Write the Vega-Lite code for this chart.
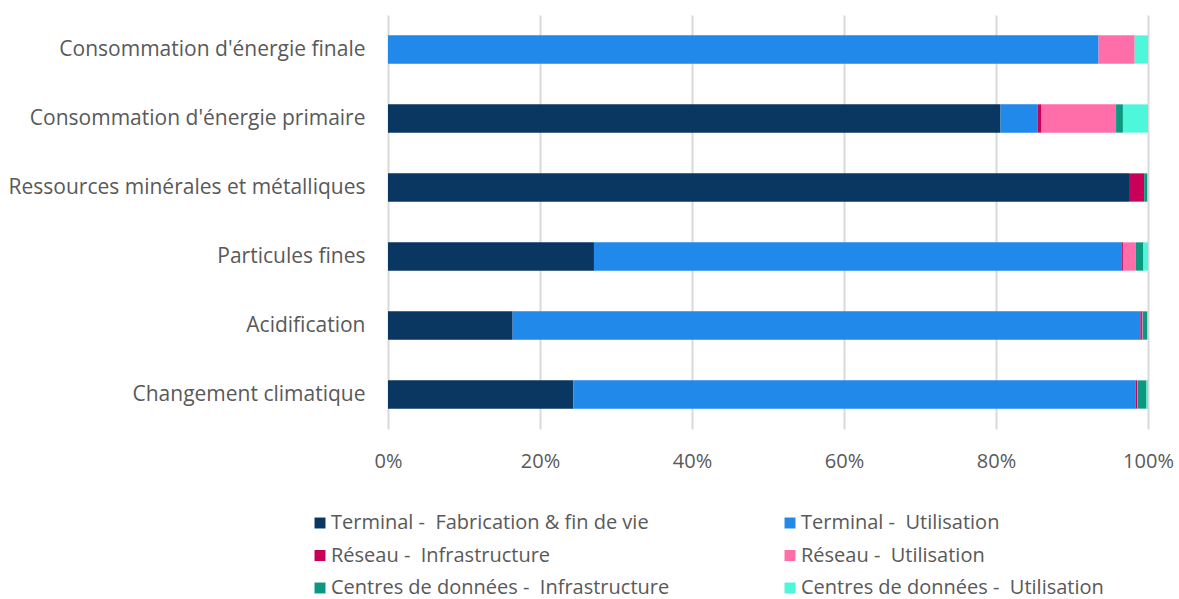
{
  "$schema": "https://vega.github.io/schema/vega-lite/v6.json",
  "autosize": "none",
  "padding": {"left": 388, "top": 15, "right": 31, "bottom": 170},
  "width": 760,
  "height": 414,
  "background": "white",
  "config": {"view": {"stroke": null}, "font": "Open Sans"},
  "data": {"values": [
    {"cat": "Consommation d'énergie finale", "s": "Terminal - \u00a0Fabrication & fin de vie", "o": 1, "v": 0},
    {"cat": "Consommation d'énergie finale", "s": "Terminal - \u00a0Utilisation", "o": 2, "v": 93.5},
    {"cat": "Consommation d'énergie finale", "s": "Réseau - \u00a0Infrastructure", "o": 3, "v": 0},
    {"cat": "Consommation d'énergie finale", "s": "Réseau - \u00a0Utilisation", "o": 4, "v": 4.75},
    {"cat": "Consommation d'énergie finale", "s": "Centres de données - \u00a0Infrastructure", "o": 5, "v": 0},
    {"cat": "Consommation d'énergie finale", "s": "Centres de données - \u00a0Utilisation", "o": 6, "v": 1.75},
    {"cat": "Consommation d'énergie primaire", "s": "Terminal - \u00a0Fabrication & fin de vie", "o": 1, "v": 80.6},
    {"cat": "Consommation d'énergie primaire", "s": "Terminal - \u00a0Utilisation", "o": 2, "v": 4.9},
    {"cat": "Consommation d'énergie primaire", "s": "Réseau - \u00a0Infrastructure", "o": 3, "v": 0.5},
    {"cat": "Consommation d'énergie primaire", "s": "Réseau - \u00a0Utilisation", "o": 4, "v": 9.8},
    {"cat": "Consommation d'énergie primaire", "s": "Centres de données - \u00a0Infrastructure", "o": 5, "v": 0.9},
    {"cat": "Consommation d'énergie primaire", "s": "Centres de données - \u00a0Utilisation", "o": 6, "v": 3.3},
    {"cat": "Ressources minérales et métalliques", "s": "Terminal - \u00a0Fabrication & fin de vie", "o": 1, "v": 97.5},
    {"cat": "Ressources minérales et métalliques", "s": "Terminal - \u00a0Utilisation", "o": 2, "v": 0},
    {"cat": "Ressources minérales et métalliques", "s": "Réseau - \u00a0Infrastructure", "o": 3, "v": 2.0},
    {"cat": "Ressources minérales et métalliques", "s": "Réseau - \u00a0Utilisation", "o": 4, "v": 0},
    {"cat": "Ressources minérales et métalliques", "s": "Centres de données - \u00a0Infrastructure", "o": 5, "v": 0.4},
    {"cat": "Ressources minérales et métalliques", "s": "Centres de données - \u00a0Utilisation", "o": 6, "v": 0.1},
    {"cat": "Particules fines", "s": "Terminal - \u00a0Fabrication & fin de vie", "o": 1, "v": 27.1},
    {"cat": "Particules fines", "s": "Terminal - \u00a0Utilisation", "o": 2, "v": 69.4},
    {"cat": "Particules fines", "s": "Réseau - \u00a0Infrastructure", "o": 3, "v": 0.2},
    {"cat": "Particules fines", "s": "Réseau - \u00a0Utilisation", "o": 4, "v": 1.7},
    {"cat": "Particules fines", "s": "Centres de données - \u00a0Infrastructure", "o": 5, "v": 1.0},
    {"cat": "Particules fines", "s": "Centres de données - \u00a0Utilisation", "o": 6, "v": 0.6},
    {"cat": "Acidification", "s": "Terminal - \u00a0Fabrication & fin de vie", "o": 1, "v": 16.4},
    {"cat": "Acidification", "s": "Terminal - \u00a0Utilisation", "o": 2, "v": 82.6},
    {"cat": "Acidification", "s": "Réseau - \u00a0Infrastructure", "o": 3, "v": 0.2},
    {"cat": "Acidification", "s": "Réseau - \u00a0Utilisation", "o": 4, "v": 0.1},
    {"cat": "Acidification", "s": "Centres de données - \u00a0Infrastructure", "o": 5, "v": 0.6},
    {"cat": "Acidification", "s": "Centres de données - \u00a0Utilisation", "o": 6, "v": 0.1},
    {"cat": "Changement climatique", "s": "Terminal - \u00a0Fabrication & fin de vie", "o": 1, "v": 24.4},
    {"cat": "Changement climatique", "s": "Terminal - \u00a0Utilisation", "o": 2, "v": 74.0},
    {"cat": "Changement climatique", "s": "Réseau - \u00a0Infrastructure", "o": 3, "v": 0.2},
    {"cat": "Changement climatique", "s": "Réseau - \u00a0Utilisation", "o": 4, "v": 0.05},
    {"cat": "Changement climatique", "s": "Centres de données - \u00a0Infrastructure", "o": 5, "v": 1.15},
    {"cat": "Changement climatique", "s": "Centres de données - \u00a0Utilisation", "o": 6, "v": 0.2}
  ]},
  "mark": {"type": "bar"},
  "encoding": {
    "y": {
      "field": "cat", "type": "nominal",
      "sort": ["Consommation d'énergie finale", "Consommation d'énergie primaire", "Ressources minérales et métalliques", "Particules fines", "Acidification", "Changement climatique"],
      "scale": {"paddingInner": 0.59, "paddingOuter": 0.295},
      "axis": {"title": null, "domain": false, "ticks": false, "labelFontSize": 21, "labelColor": "#595959", "labelPadding": 23, "labelLimit": 400, "labelFont": "Open Sans"}
    },
    "x": {
      "field": "v", "type": "quantitative", "stack": "normalize",
      "scale": {"domain": [0, 1], "nice": false},
      "axis": {"title": null, "format": "%", "values": [0, 0.2, 0.4, 0.6, 0.8, 1], "domain": false, "ticks": false, "grid": true, "gridColor": "#D9D9D9", "gridWidth": 2, "labelFontSize": 20, "labelColor": "#595959", "labelPadding": 22, "labelFont": "Open Sans", "labelFlush": false}
    },
    "color": {
      "field": "s", "type": "nominal",
      "scale": {
        "domain": ["Terminal - \u00a0Fabrication & fin de vie", "Terminal - \u00a0Utilisation", "Réseau - \u00a0Infrastructure", "Réseau - \u00a0Utilisation", "Centres de données - \u00a0Infrastructure", "Centres de données - \u00a0Utilisation"],
        "range": ["#0A3761", "#2089EA", "#C8005A", "#FF6EA8", "#0A9880", "#4CF7DA"]
      },
      "legend": {
        "title": null, "orient": "none", "legendX": -78, "legendY": 498, "columns": 2, "direction": "horizontal",
        "symbolType": "square", "symbolSize": 120, "symbolStrokeWidth": 0, "labelFontSize": 20, "labelColor": "#595959", "labelFont": "Open Sans",
        "rowPadding": 12.5, "columnPadding": 110, "labelOffset": 1, "labelLimit": 500
      }
    },
    "order": {"field": "o", "type": "quantitative"}
  }
}
